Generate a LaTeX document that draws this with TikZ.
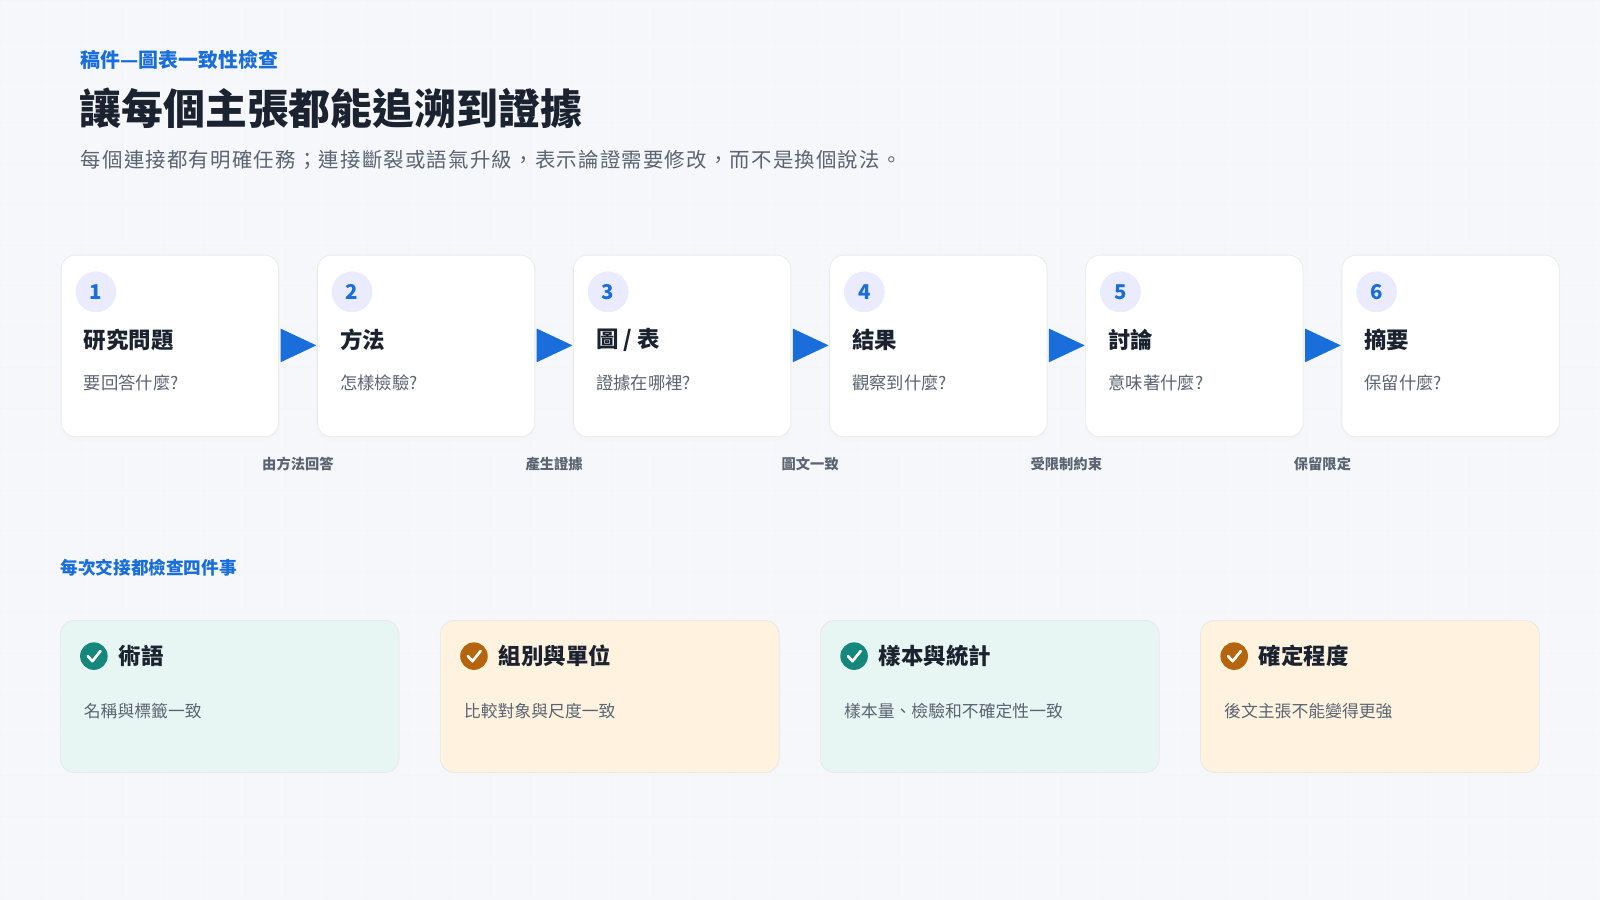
\documentclass[tikz,border=0pt]{standalone}
\usepackage{fontspec}
\setmainfont{Noto Sans CJK TC}
\begin{document}
\begin{tikzpicture}[x=1pt,y=-1pt,
  card/.style={draw=black!8,fill=white,rounded corners=14pt,line width=0.8pt},
  num/.style={circle,fill=blue!8,minimum size=40pt,inner sep=0,text=bluek,font=\fontsize{20}{20}\selectfont\bfseries},
  ttl/.style={anchor=west,inner sep=0,text=darkk,font=\fontsize{22}{22}\selectfont\bfseries},
  sub/.style={anchor=west,inner sep=0,text=grayk,font=\fontsize{17}{17}\selectfont},
  lbl/.style={inner sep=0,text=grayk,font=\fontsize{14}{14}\selectfont\bfseries},
  arr/.style={fill=bluek},
  chk/.style={circle,minimum size=27pt,inner sep=0},
  bcard/.style={rounded corners=14pt,line width=0.8pt}]
\definecolor{bluek}{HTML}{1A6EDB}
\definecolor{darkk}{HTML}{1B2330}
\definecolor{grayk}{HTML}{5A6472}
\definecolor{bgk}{HTML}{F5F7FA}
\definecolor{tealk}{HTML}{16877D}
\definecolor{tealbg}{HTML}{E8F6F3}
\definecolor{orgk}{HTML}{B5650E}
\definecolor{orgbg}{HTML}{FFF3E0}
\fill[bgk] (0,0) rectangle (1568,882);
\useasboundingbox (0,0) rectangle (1568,882);
\foreach \i in {0,40,...,1560} \draw[black!4,line width=0.5pt] (\i,0) -- (\i,882);
\foreach \i in {0,40,...,880} \draw[black!4,line width=0.5pt] (0,\i) -- (1568,\i);
\node[anchor=west,inner sep=0,text=bluek,font=\fontsize{19.5}{19}\selectfont\bfseries] (kick) at (79,59) {稿件—圖表一致性檢查};
\node[anchor=west,inner sep=0,text=darkk,font=\fontsize{41}{41}\selectfont\bfseries] (title) at (78,106) {讓每個主張都能追溯到證據};
\node[anchor=west,inner sep=0,text=grayk,font=\fontsize{20}{20}\selectfont\addfontfeature{LetterSpace=6}] (lead) at (79,157) {每個連接都有明確任務；連接斷裂或語氣升級，表示論證需要修改，而不是換個說法。};
\foreach \k/\t/\s [count=\n from 0] in {1/研究問題/要回答什麼?,2/方法/怎樣檢驗?,3/{圖 / 表}/證據在哪裡?,4/結果/觀察到什麼?,5/討論/意味著什麼?,6/摘要/保留什麼?}{
  \pgfmathsetmacro{\xo}{60+251*\n}
  \fill[black!4,rounded corners=15pt] (\xo-1,252) rectangle (\xo+214,432);
  \draw[card] (\xo,250) rectangle (\xo+213,428);
  \node[num] (n\k) at (\xo+34,286) {\k};
  \node[ttl] (t\k) at (\xo+22,333) {\t};
  \node[sub] (s\k) at (\xo+22,375) {\s};
}
\foreach \n/\l in {0/由方法回答,1/產生證據,2/圖文一致,3/受限制約束,4/保留限定}{
  \pgfmathsetmacro{\xa}{275+251*\n}
  \fill[arr] (\xa,322) -- (\xa+35,338.5) -- (\xa,355) -- cycle;
  \node[lbl] (l\n) at (\xa+17,455) {\l};
}
\node[anchor=west,inner sep=0,text=bluek,font=\fontsize{17.3}{17}\selectfont\bfseries] (sec) at (59,556) {每次交接都檢查四件事};
\foreach \t/\d/\c/\b [count=\n from 0] in {術語/名稱與標籤一致/tealk/tealbg,組別與單位/比較對象與尺度一致/orgk/orgbg,樣本與統計/樣本量、檢驗和不確定性一致/tealk/tealbg,確定程度/後文主張不能變得更強/orgk/orgbg}{
  \pgfmathsetmacro{\xo}{59+372.5*\n}
  \draw[bcard,fill=\b,draw=black!9] (\xo,608) rectangle (\xo+332,757);
  \node[chk,fill=\c] (c\n) at (\xo+33,643) {};
  \draw[white,line width=2.6pt,line cap=round,line join=round] ([shift={(-6,0)}]c\n.center) -- ([shift={(-1.5,5)}]c\n.center) -- ([shift={(6.5,-5)}]c\n.center);
  \node[ttl] (bt\n) at (\xo+57,643) {\t};
  \node[sub,font=\fontsize{16.5}{16}\selectfont] (bd\n) at (\xo+23,697) {\d};
}
\end{tikzpicture}
\end{document}
